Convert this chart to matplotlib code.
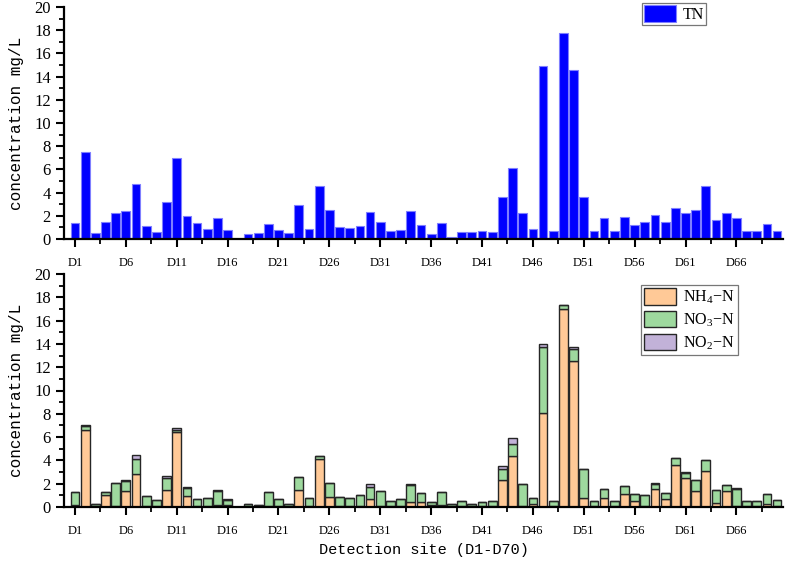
import matplotlib
matplotlib.use("Agg")
import matplotlib.pyplot as plt
import numpy as np
from matplotlib.ticker import MultipleLocator, FixedLocator

plt.rcParams['mathtext.fontset'] = 'custom'
plt.rcParams['mathtext.rm'] = 'Liberation Serif'
plt.rcParams['mathtext.it'] = 'Liberation Serif:italic'

sites = [f"D{i}" for i in range(1, 71)]

TN = [1.4, 7.5, 0.5, 1.5, 2.2, 2.4, 4.7, 1.1, 0.6, 3.2,
      7.0, 2.0, 1.4, 0.9, 1.8, 0.8, 0.0, 0.4, 0.5, 1.3,
      0.8, 0.5, 2.9, 0.9, 4.6, 2.5, 1.0, 0.95, 1.1, 2.3,
      1.5, 0.7, 0.8, 2.4, 1.2, 0.4, 1.4, 0.2, 0.6, 0.6,
      0.7, 0.6, 3.6, 6.1, 2.2, 0.9, 14.9, 0.7, 17.8, 14.6,
      3.6, 0.7, 1.8, 0.7, 1.9, 1.2, 1.5, 2.1, 1.5, 2.7,
      2.2, 2.5, 4.6, 1.6, 2.2, 1.8, 0.7, 0.7, 1.3, 0.7]

NH4 = [0.2, 6.6, 0.05, 1.0, 0.1, 1.4, 2.8, 0.05, 0.05, 1.45,
       6.4, 0.95, 0.05, 0.05, 0.2, 0.15, 0.0, 0.05, 0.05, 0.05,
       0.1, 0.05, 1.5, 0.05, 4.15, 0.9, 0.05, 0.05, 0.05, 0.7,
       0.05, 0.1, 0.1, 0.4, 0.45, 0.15, 0.15, 0.05, 0.05, 0.05,
       0.05, 0.1, 2.3, 4.4, 0.05, 0.3, 8.1, 0.05, 17.0, 12.5,
       0.75, 0.05, 0.8, 0.05, 1.1, 0.55, 0.1, 1.55, 0.65, 3.6,
       2.45, 1.4, 3.05, 0.35, 1.4, 0.1, 0.05, 0.05, 0.25, 0.1]

NO3 = [1.1, 0.35, 0.2, 0.25, 2.0, 0.85, 1.35, 0.9, 0.55, 1.05,
       0.25, 0.7, 0.65, 0.75, 1.2, 0.45, 0.0, 0.25, 0.1, 1.2,
       0.6, 0.25, 1.05, 0.75, 0.2, 1.2, 0.85, 0.75, 0.95, 1.05,
       1.35, 0.4, 0.55, 1.5, 0.75, 0.25, 1.15, 0.25, 0.5, 0.25,
       0.35, 0.4, 0.95, 1.0, 1.95, 0.45, 5.6, 0.45, 0.3, 1.05,
       2.5, 0.5, 0.75, 0.5, 0.7, 0.55, 0.95, 0.45, 0.55, 0.6,
       0.5, 0.95, 1.0, 1.15, 0.45, 1.45, 0.45, 0.45, 0.9, 0.5]

NO2 = [0.0, 0.05, 0.0, 0.05, 0.0, 0.05, 0.35, 0.0, 0.0, 0.2,
       0.1, 0.05, 0.0, 0.0, 0.05, 0.05, 0.0, 0.0, 0.0, 0.0,
       0.0, 0.0, 0.05, 0.0, 0.05, 0.0, 0.0, 0.0, 0.0, 0.2,
       0.0, 0.0, 0.0, 0.05, 0.0, 0.0, 0.0, 0.0, 0.0, 0.0,
       0.0, 0.05, 0.25, 0.5, 0.0, 0.0, 0.3, 0.0, 0.05, 0.2,
       0.05, 0.0, 0.0, 0.0, 0.0, 0.0, 0.0, 0.03, 0.0, 0.0,
       0.05, 0.0, 0.0, 0.0, 0.0, 0.05, 0.0, 0.0, 0.0, 0.0]

tick_sites = ["D1", "D6", "D11", "D16", "D21", "D26", "D31", "D36", "D41",
              "D46", "D51", "D56", "D61", "D66"]

W, H = 789, 561
fig = plt.figure(figsize=(W / 100, H / 100), dpi=100)
ax1 = fig.add_axes([64 / W, 1 - 239 / H, 719 / W, 232 / H])
ax2 = fig.add_axes([64 / W, 1 - 507 / H, 719 / W, 233 / H])

x = np.arange(1, len(sites) + 1)
bw = 0.86

ax1.bar(x, TN, width=bw, color='#0000FF', edgecolor='#7f7fff', linewidth=0.8, label='TN')

nh4 = np.array(NH4)
no3 = np.array(NO3)
no2 = np.array(NO2)
ec = '#262626'
ax2.bar(x, nh4, width=bw, color='#FFC997', edgecolor=ec, linewidth=1.0, label='NH$_4$\u2212N')
ax2.bar(x, no3, width=bw, bottom=nh4, color='#9ED99E', edgecolor=ec, linewidth=1.0, label='NO$_3$\u2212N')
ax2.bar(x, no2, width=bw, bottom=nh4 + no3, color='#C2B2D8', edgecolor=ec, linewidth=1.0, label='NO$_2$\u2212N')

tick_pos = [sites.index(s) + 1 for s in tick_sites]
for ax in (ax1, ax2):
    ax.set_xlim(-0.08, 70.58)
    ax.set_ylim(0, 20)
    ax.yaxis.set_major_locator(MultipleLocator(2))
    ax.yaxis.set_minor_locator(MultipleLocator(1))
    ax.set_xticks(tick_pos)
    ax.set_xticklabels(tick_sites, fontfamily='Liberation Serif', fontsize=9)
    ax.xaxis.set_minor_locator(FixedLocator([p + 2.5 for p in tick_pos]))
    for s in ('top', 'right'):
        ax.spines[s].set_visible(False)
    for s in ('left', 'bottom'):
        ax.spines[s].set_linewidth(1.6)
    ax.tick_params(axis='both', which='major', direction='out', length=6, width=1.5)
    ax.tick_params(axis='both', which='minor', direction='out', length=3.5, width=1.3)
    ax.tick_params(axis='x', which='major', pad=7)
    for lab in ax.get_yticklabels():
        lab.set_fontfamily('Liberation Serif')
        lab.set_fontsize(12)
    ax.set_ylabel('concentration mg/L', fontfamily='Liberation Mono', fontsize=11.5, labelpad=7)

ax2.set_xlabel('Detection site (D1-D70)', fontfamily='Liberation Mono', fontsize=11, labelpad=4)

leg1 = ax1.legend(loc='upper left', bbox_to_anchor=(642 / W, 1 - 3 / H), bbox_transform=fig.transFigure,
                  frameon=True, fancybox=False, edgecolor='#555555',
                  prop={'family': 'Liberation Serif', 'size': 11.5},
                  handlelength=2.0, handleheight=1.25, borderpad=0.12, handletextpad=0.4,
                  borderaxespad=0)
leg1.get_frame().set_linewidth(0.9)

leg2 = ax2.legend(loc='upper left', bbox_to_anchor=(641 / W, 1 - 285 / H), bbox_transform=fig.transFigure,
                  frameon=True, fancybox=False, edgecolor='#555555',
                  prop={'family': 'Liberation Serif', 'size': 11.5},
                  handlelength=2.0, handleheight=1.2, borderpad=0.2, handletextpad=0.45,
                  labelspacing=0.3, borderaxespad=0)
leg2.get_frame().set_linewidth(0.9)

fig.savefig('out.png', dpi=100)
